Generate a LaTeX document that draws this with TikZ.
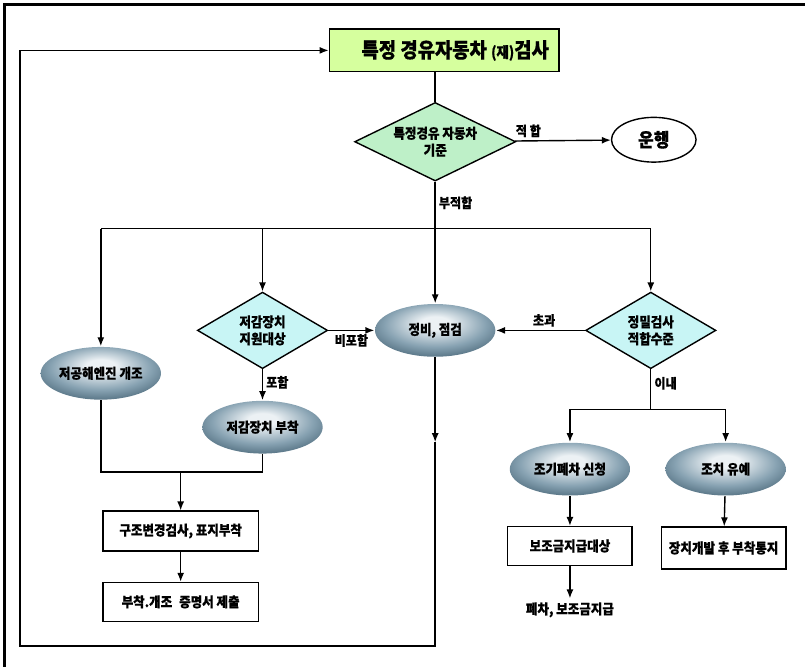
\documentclass[tikz,border=0pt]{standalone}
\usepackage{fontspec}
\setmainfont{Noto Sans CJK KR}[FakeStretch=0.9, BoldFeatures={FakeBold=0.6}]
\usetikzlibrary{shapes.geometric,arrows.meta}

\definecolor{titlegreen}{RGB}{214,255,158}
\definecolor{critgreen}{RGB}{190,240,200}
\definecolor{askcyan}{RGB}{200,245,245}
\definecolor{ellhi}{RGB}{236,241,244}
\definecolor{ellmid}{RGB}{135,162,178}
\definecolor{elldk}{RGB}{42,72,90}
\pgfdeclareradialshading{ellshade}{\pgfpoint{0bp}{8bp}}{color(0bp)=(ellhi); color(6bp)=(ellhi); color(21bp)=(ellmid); color(38bp)=(elldk); color(60bp)=(elldk)}

\begin{document}
\begin{tikzpicture}[x=1bp, y=-1bp, line width=1.4bp,
  every node/.style={font=\bfseries\fontsize{14}{17}\selectfont, align=center},
  titlebox/.style={draw, fill=titlegreen, minimum width=231, minimum height=43, inner sep=0, font=\bfseries\fontsize{21}{24}\selectfont},
  crit/.style={diamond, draw, fill=critgreen, aspect=2, minimum width=162, minimum height=79, inner sep=0},
  ask/.style={diamond, draw, fill=askcyan, aspect=1.7, minimum width=131, minimum height=77, inner sep=0},
  oval/.style={ellipse, shading=ellshade, minimum width=121, minimum height=53, inner sep=0},
  endoval/.style={ellipse, draw, fill=white, minimum width=85, minimum height=45, inner sep=0, font=\bfseries\fontsize{19}{22}\selectfont},
  box/.style={draw, fill=white, inner sep=3},
  lbl/.style={font=\bfseries\fontsize{13.5}{15}\selectfont, inner sep=3},
  arr/.style={-{Latex[length=9bp,width=7bp]}}]

  % Marco
  \draw[line width=3bp] (5,668) -- (5,5) -- (806,5);

  % Arriba: (re)inspeccion
  \node[titlebox] (title) at (445,50.5) {\kern22bp 특정 경유자동차 {\fontsize{15}{17}\selectfont(재)}검사};
  \node[crit] (crit) at (436,142) {특정경유 자동차\\기준};
  \node[endoval] (run) at (655,140) {운행};
  \coordinate (split) at (436,229);

  % Fila central
  \node[oval] (lowe) at (101,374) {저공해엔진 개조};
  \node[ask] (dev) at (263,331) {저감장치\\지원대상};
  \node[oval] (fit) at (263,428) {저감장치 부착};
  \node[oval] (repair) at (436,331) {정비, 점검};
  \node[ask] (prec) at (652,331) {정밀검사\\적합수준};
  \coordinate (split2) at (652,410);

  % Abajo derecha
  \node[oval] (scrap) at (571,470) {조기폐차 신청};
  \node[oval] (defer) at (727,470) {조치 유예};
  \node[box, minimum width=125, minimum height=39] (subsidy) at (571,547) {보조금지급대상};
  \node[box, minimum width=125, minimum height=42] (notify) at (725,549) {장치개발 후 부착통지};
  \node (payout) at (571,611) {폐차, 보조금지급};

  % Abajo izquierda
  \coordinate (join) at (181,473);
  \node[box, minimum width=156, minimum height=40] (insp) at (181,532) {구조변경검사, 표지부착};
  \node[box, minimum width=156, minimum height=39] (cert) at (181,603) {부착.개조\enspace 증명서 제출};

  % Retorno
  \coordinate (loopmid) at (436,443);
  \coordinate (loopbot) at (436,647);
  \coordinate (loopcorner) at (20,647);
  \coordinate (looptop) at (20,50.5);

  % Aristas
  \draw (title.south -| crit.north) -- (crit.north);
  \draw[arr] (crit) -- (run) node[lbl, above, pos=0.14] {적 합};
  \draw (crit) -- (split) node[lbl, right, pos=0.45] {부적합};
  \draw (lowe.north |- split) -- (prec.north |- split);
  \draw[arr] (lowe.north |- split) -- (lowe);
  \draw[arr] (dev.north |- split) -- (dev);
  \draw[arr] (split) -- (repair);
  \draw[arr] (prec.north |- split) -- (prec);

  \draw[arr] (dev) -- (repair) node[lbl, below, pos=0.5] {비포함};
  \draw[arr] (dev) -- (fit) node[lbl, right, pos=0.42] {포함};
  \draw[arr] (prec) -- (repair) node[lbl, above, pos=0.46] {초과};
  \draw (prec) -- (split2) node[lbl, right, pos=0.35] {이내};

  \draw (scrap.north |- split2) -- (defer.north |- split2);
  \draw[arr] (scrap.north |- split2) -- (scrap);
  \draw[arr] (defer.north |- split2) -- (defer);
  \draw[arr] (scrap) -- (subsidy);
  \draw[arr] (subsidy) -- (payout);
  \draw[arr] (defer) -- (notify);

  \draw (lowe) -- (lowe |- join) -- (fit |- join) -- (fit);
  \draw[arr] (join) -- (insp);
  \draw[arr] (insp) -- (cert);

  \draw[arr] (repair) -- (loopmid);
  \draw[arr] (loopmid) -- (loopbot) -- (loopcorner) -- (looptop) -- (title);

  \useasboundingbox (0,0) rectangle (806,668);
\end{tikzpicture}
\end{document}
